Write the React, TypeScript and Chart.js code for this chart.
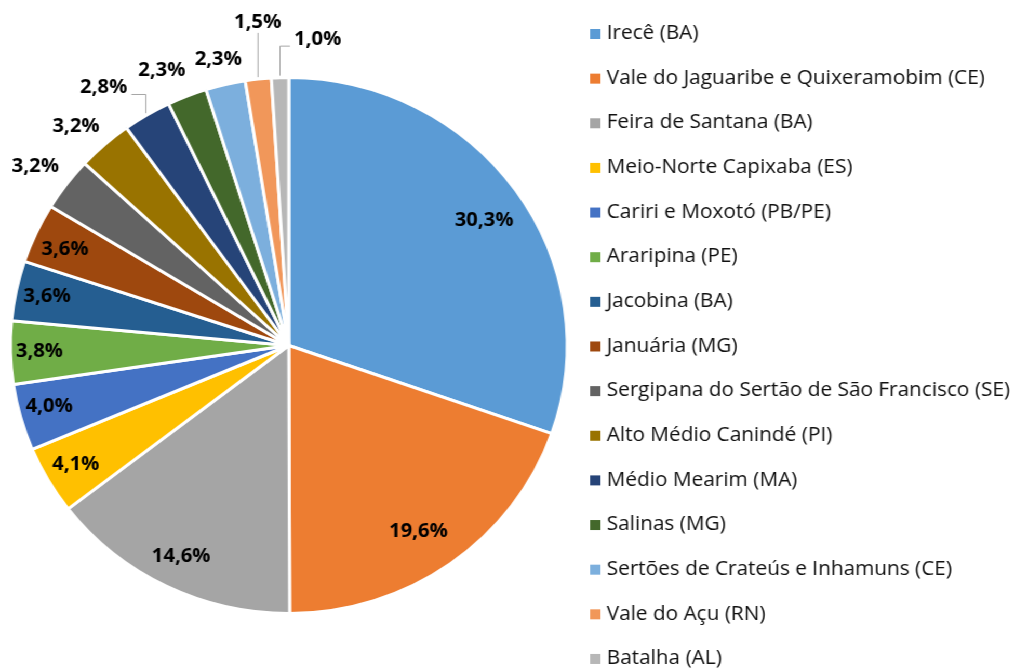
import React, { useEffect, useRef } from "react";
import { Chart, registerables } from "chart.js";

Chart.register(...registerables);

const categories = [
  "Irecê (BA)",
  "Vale do Jaguaribe e Quixeramobim (CE)",
  "Feira de Santana (BA)",
  "Meio-Norte Capixaba (ES)",
  "Cariri e Moxotó (PB/PE)",
  "Araripina (PE)",
  "Jacobina (BA)",
  "Januária (MG)",
  "Sergipana do Sertão de São Francisco (SE)",
  "Alto Médio Canindé (PI)",
  "Médio Mearim (MA)",
  "Salinas (MG)",
  "Sertões de Crateús e Inhamuns (CE)",
  "Vale do Açu (RN)",
  "Batalha (AL)",
];

const values = [30.3, 19.6, 14.6, 4.1, 4.0, 3.8, 3.6, 3.6, 3.2, 3.2, 2.8, 2.3, 2.3, 1.5, 1.0];

const colors = [
  "#5B9BD5", "#ED7D31", "#A5A5A5", "#FFC000", "#4472C4",
  "#70AD47", "#255E91", "#9E480E", "#636363", "#997300",
  "#264478", "#43682B", "#7CAFDD", "#F1975A", "#B7B7B7",
];

// label placement styling: radial factor, angular shift (deg), leader type
const labelRadius = [0.843, 0.835, 0.878, 0.885, 0.89, 0.896, 0.887, 0.88, 1.13, 1.12, 1.17, 1.124, 1.097, 1.209, 1.146];
const labelShift = [1.7, 1.6, 0, 0, 0.8, 0, 0, -0.8, -0.7, -1.6, -4.0, -2.5, -0.2, 1.0, 7.0];
const labelLeader = ["", "", "", "", "", "", "", "", "", "", "left", "", "", "up", "right"];

const FONT = "'Open Sans', 'Liberation Sans', sans-serif";

const labelPlugin = {
  id: "pctLabels",
  afterDatasetsDraw(chart: any) {
    const ctx = chart.ctx;
    const meta = chart.getDatasetMeta(0);
    const data = chart.data.datasets[0].data as number[];
    ctx.save();
    ctx.font = `bold 19.5px ${FONT}`;
    ctx.textAlign = "center";
    ctx.textBaseline = "middle";
    meta.data.forEach((arc: any, i: number) => {
      const { x, y, startAngle, endAngle, outerRadius } = arc.getProps(
        ["x", "y", "startAngle", "endAngle", "outerRadius"],
        true
      );
      const mid = (startAngle + endAngle) / 2;
      const a = mid + (labelShift[i] * Math.PI) / 180;
      const r = outerRadius * labelRadius[i];
      const lx = x + Math.cos(a) * r;
      const ly = y + Math.sin(a) * r;
      const text = data[i].toFixed(1).replace(".", ",") + "%";
      const w = ctx.measureText(text).width;
      const leader = labelLeader[i];
      if (leader) {
        const sx = x + Math.cos(mid) * (outerRadius + 2);
        const sy = y + Math.sin(mid) * (outerRadius + 2);
        ctx.strokeStyle = "#A6A6A6";
        ctx.lineWidth = 1;
        ctx.beginPath();
        ctx.moveTo(sx, sy);
        if (leader === "left") {
          ctx.lineTo(sx, ly + 7);
          ctx.lineTo(lx + w / 2 + 4, ly + 7);
        } else if (leader === "right") {
          ctx.lineTo(sx, ly + 6.5);
          ctx.lineTo(lx - w / 2 - 4, ly + 6.5);
        } else {
          ctx.lineTo(sx, ly + 10);
        }
        ctx.stroke();
      }
      ctx.fillStyle = "#000000";
      ctx.fillText(text, lx, ly);
    });
    ctx.restore();
  },
};

const legendPlugin = {
  id: "sideLegend",
  afterDraw(chart: any) {
    const ctx = chart.ctx;
    const labels = chart.data.labels as string[];
    const bg = chart.data.datasets[0].backgroundColor as string[];
    ctx.save();
    ctx.font = `20px ${FONT}`;
    ctx.textAlign = "left";
    ctx.textBaseline = "middle";
    labels.forEach((lab, i) => {
      const cy = 33.5 + i * 44.64;
      ctx.fillStyle = bg[i];
      ctx.fillRect(568, cy - 4.5, 10, 10);
      ctx.fillStyle = "#111111";
      ctx.fillText(lab, 584, cy);
    });
    ctx.restore();
  },
};

export default function App() {
  const ref = useRef<HTMLCanvasElement | null>(null);
  useEffect(() => {
    if (!ref.current) return;
    const chart = new Chart(ref.current, {
      type: "pie",
      data: {
        labels: categories,
        datasets: [
          {
            data: values,
            backgroundColor: colors,
            borderColor: "#FFFFFF",
            borderWidth: 3,
          },
        ],
      },
      options: {
        animation: false,
        responsive: false,
        devicePixelRatio: 1,
        radius: 268,
        layout: { padding: { left: 0, right: 422, top: 21, bottom: 0 } },
        plugins: {
          legend: { display: false },
          tooltip: { enabled: false },
        },
      } as any,
      plugins: [labelPlugin, legendPlugin],
    });
    return () => chart.destroy();
  }, []);
  return (
    <div
      style={{
        position: "absolute",
        left: 0,
        top: 0,
        width: 978,
        height: 670,
        background: "#fff",
        transform: "scaleX(1.0389)",
        transformOrigin: "0 0",
      }}
    >
      <canvas ref={ref} width={978} height={670} style={{ width: 978, height: 670 }} />
    </div>
  );
}
